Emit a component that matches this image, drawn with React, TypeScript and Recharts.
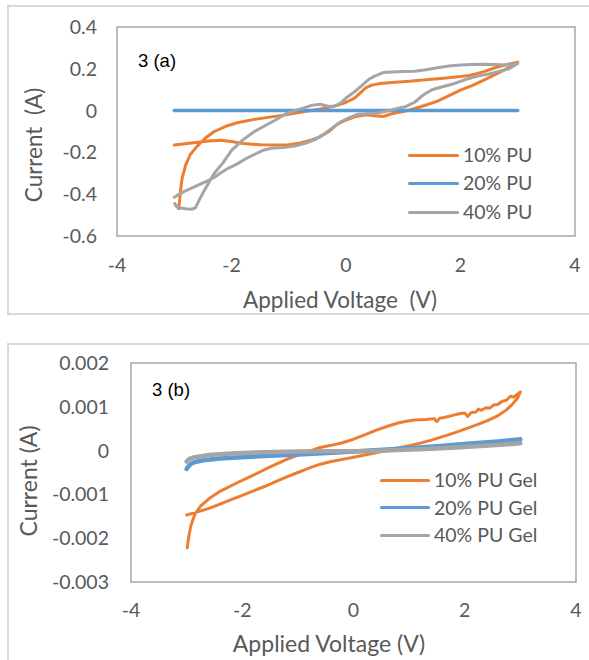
import React from 'react';
import { LineChart, Line, XAxis, YAxis, ReferenceArea, Legend, Label } from 'recharts';

type P = [number, number];

// ---------- shared ----------
const xTicks = [-4, -2, 0, 2, 4];
const colors = ['#ED7D31', '#5B9BD5', '#A5A5A5'];

// ---------- panel 3 (a) : current in A ----------
const yTicksA = [-0.6, -0.4, -0.2, 0, 0.2, 0.4];
const namesA = ['10% PU', '20% PU', '40% PU'];

const pu10: P[] = [
  [-3.0, -0.165], [-2.7, -0.155], [-2.4, -0.145], [-2.2, -0.142], [-2.0, -0.148], [-1.8, -0.158],
  [-1.5, -0.163], [-1.2, -0.165], [-1.0, -0.163], [-0.8, -0.155], [-0.6, -0.14], [-0.45, -0.125],
  [-0.3, -0.1], [-0.15, -0.065], [0.0, -0.045], [0.15, -0.03], [0.35, -0.02], [0.5, -0.025],
  [0.65, -0.028], [0.8, -0.015], [1.0, -0.005], [1.2, 0.01], [1.4, 0.027], [1.6, 0.045],
  [1.8, 0.072], [2.0, 0.098], [2.2, 0.12], [2.4, 0.145], [2.6, 0.172], [2.8, 0.2], [3.0, 0.232],
  [2.8, 0.22], [2.6, 0.205], [2.45, 0.19], [2.3, 0.178], [2.15, 0.168], [2.0, 0.163], [1.7, 0.155],
  [1.4, 0.148], [1.1, 0.14], [0.8, 0.135], [0.6, 0.13], [0.45, 0.122], [0.35, 0.11], [0.25, 0.085],
  [0.15, 0.06], [0.0, 0.04], [-0.15, 0.025], [-0.35, 0.012], [-0.6, 0.0], [-0.8, -0.008],
  [-1.0, -0.018], [-1.3, -0.03], [-1.6, -0.042], [-1.9, -0.058], [-2.1, -0.075], [-2.3, -0.1],
  [-2.45, -0.13], [-2.6, -0.17], [-2.72, -0.21], [-2.8, -0.26], [-2.86, -0.32], [-2.89, -0.38],
  [-2.91, -0.44], [-2.92, -0.47], [-2.97, -0.455], [-2.99, -0.445],
];

const pu20: P[] = [
  [-3.0, 0.0], [-1.5, 0.0], [0.0, 0.0], [1.5, 0.0], [3.0, 0.0],
];

const pu40: P[] = [
  [-3.0, -0.415], [-2.85, -0.39], [-2.65, -0.365], [-2.45, -0.34], [-2.3, -0.32], [-2.2, -0.3],
  [-2.05, -0.275], [-1.9, -0.255], [-1.75, -0.23], [-1.6, -0.21], [-1.45, -0.19], [-1.3, -0.18],
  [-1.1, -0.177], [-0.9, -0.17], [-0.7, -0.155], [-0.55, -0.14], [-0.4, -0.115], [-0.25, -0.085],
  [-0.1, -0.055], [0.05, -0.035], [0.2, -0.018], [0.35, -0.015], [0.55, -0.012], [0.7, -0.003],
  [0.9, 0.01], [1.05, 0.02], [1.2, 0.04], [1.35, 0.075], [1.5, 0.1], [1.7, 0.115], [1.9, 0.13],
  [2.1, 0.15], [2.3, 0.165], [2.5, 0.175], [2.7, 0.19], [2.85, 0.2], [3.0, 0.225],
  [2.8, 0.218], [2.6, 0.22], [2.4, 0.222], [2.2, 0.22], [2.0, 0.218], [1.8, 0.213], [1.6, 0.205],
  [1.4, 0.195], [1.2, 0.188], [1.0, 0.187], [0.8, 0.185], [0.65, 0.182], [0.5, 0.165], [0.4, 0.15],
  [0.3, 0.125], [0.15, 0.09], [0.0, 0.06], [-0.1, 0.035], [-0.2, 0.022], [-0.3, 0.02], [-0.45, 0.03],
  [-0.6, 0.025], [-0.75, 0.012], [-0.9, 0.0], [-1.05, -0.015], [-1.2, -0.04], [-1.4, -0.07],
  [-1.6, -0.1], [-1.8, -0.14], [-2.0, -0.19], [-2.15, -0.25], [-2.3, -0.3], [-2.45, -0.37],
  [-2.55, -0.42], [-2.63, -0.465], [-2.7, -0.472], [-2.8, -0.47], [-2.92, -0.465], [-2.98, -0.45],
];

// ---------- panel 3 (b) : current in mA (tick labels shown in A) ----------
const yTicksB = [-3, -2, -1, 0, 1, 2];
const yTickLabelsB = ['-0.003', '-0.002', '-0.001', '0', '0.001', '0.002'];
const namesB = ['10% PU Gel', '20% PU Gel', '40% PU Gel'];

const gel10: P[] = [
  [-3.0, -1.47], [-2.8, -1.4], [-2.6, -1.32], [-2.4, -1.22], [-2.2, -1.12], [-2.0, -1.02],
  [-1.8, -0.92], [-1.6, -0.82], [-1.4, -0.71], [-1.2, -0.6], [-1.0, -0.5], [-0.8, -0.4],
  [-0.6, -0.31], [-0.4, -0.25], [-0.2, -0.2], [0.0, -0.15], [0.2, -0.1], [0.4, -0.05], [0.6, 0.0],
  [0.8, 0.06], [1.0, 0.11], [1.2, 0.17], [1.4, 0.24], [1.6, 0.32], [1.8, 0.4], [2.0, 0.49],
  [2.2, 0.58], [2.4, 0.68], [2.6, 0.8], [2.75, 0.93], [2.85, 1.05], [2.95, 1.2], [3.0, 1.34],
  [2.93, 1.27], [2.88, 1.22], [2.82, 1.24], [2.75, 1.15], [2.68, 1.13], [2.6, 1.06], [2.52, 1.04],
  [2.45, 0.97], [2.38, 0.98], [2.3, 0.92], [2.25, 0.95], [2.2, 0.88], [2.12, 0.87], [2.05, 0.78],
  [2.0, 0.86], [1.9, 0.84], [1.8, 0.81], [1.65, 0.76], [1.55, 0.74], [1.5, 0.66], [1.45, 0.73],
  [1.3, 0.71], [1.1, 0.7], [0.95, 0.67], [0.8, 0.63], [0.6, 0.55], [0.4, 0.46], [0.2, 0.36],
  [0.0, 0.26], [-0.2, 0.18], [-0.4, 0.12], [-0.6, 0.07], [-0.8, -0.02], [-1.0, -0.1],
  [-1.2, -0.2], [-1.5, -0.37], [-1.8, -0.56], [-2.1, -0.74], [-2.4, -0.93], [-2.6, -1.1],
  [-2.75, -1.27], [-2.85, -1.45], [-2.92, -1.7], [-2.96, -1.95], [-2.99, -2.22],
];

const gel20: P[] = [
  [-3.0, -0.42], [-2.97, -0.36], [-2.92, -0.3], [-2.85, -0.26], [-2.7, -0.22], [-2.4, -0.18],
  [-2.1, -0.155], [-1.5, -0.12], [-0.9, -0.085], [-0.3, -0.045], [0.3, 0.0], [0.9, 0.05],
  [1.5, 0.1], [2.1, 0.16], [2.6, 0.21], [3.0, 0.26],
];

const gel40: P[] = [
  [-3.0, -0.25], [-2.95, -0.19], [-2.85, -0.15], [-2.6, -0.1], [-2.2, -0.065], [-1.6, -0.035],
  [-1.0, -0.02], [-0.4, -0.015], [0.2, -0.015], [0.8, 0.015], [1.4, 0.045], [2.0, 0.08],
  [2.5, 0.12], [3.0, 0.17],
];

const toRows = (pts: P[]) => pts.map(([v, i]) => ({ v, i }));

const FONT = 'Lato, "Open Sans", sans-serif';
const GREY_TEXT = '#595959';
const tickStyle = { fill: GREY_TEXT, fontSize: 19.5, fontFamily: FONT };

function LegendBox({ names, lineW, rowH }: { names: string[]; lineW: number; rowH: number }) {
  return (
    <div style={{ fontFamily: FONT, fontSize: 19.5, color: GREY_TEXT }}>
      {names.map((n, k) => (
        <div key={n} style={{ display: 'flex', alignItems: 'center', height: rowH }}>
          <div style={{ width: lineW, height: 3, background: colors[k], borderRadius: 1.5 }} />
          <span style={{ marginLeft: 4, lineHeight: `${rowH}px`, whiteSpace: 'nowrap' }}>{n}</span>
        </div>
      ))}
    </div>
  );
}

const titleStyle = (size: number) => ({
  fill: GREY_TEXT,
  fontSize: size,
  fontFamily: FONT,
  whiteSpace: 'pre' as const,
});

export default function App() {
  const d10 = toRows(pu10);
  const d20 = toRows(pu20);
  const d40 = toRows(pu40);
  const g10 = toRows(gel10);
  const g20 = toRows(gel20);
  const g40 = toRows(gel40);

  return (
    <div style={{ position: 'absolute', left: 0, top: 0, width: 589, height: 660, background: '#fff', overflow: 'hidden' }}>
      {/* outer chart frames */}
      <div style={{ position: 'absolute', left: 7, top: 5, width: 600, height: 310, border: '2px solid #D9D9D9', boxSizing: 'border-box' }} />
      <div style={{ position: 'absolute', left: 7, top: 343, width: 600, height: 400, border: '2px solid #D9D9D9', boxSizing: 'border-box' }} />

      {/* chart (a) */}
      <div style={{ position: 'absolute', left: 0, top: 0 }}>
        <LineChart width={589} height={320} margin={{ top: 27, right: 14, bottom: 0, left: 0 }}>
          <XAxis
            type="number" dataKey="v" domain={[-4, 4]} ticks={xTicks} interval={0}
            height={84} axisLine={false} tickLine={false} tickSize={0} tickMargin={22} tick={tickStyle}
            allowDataOverflow
            label={<Label content={() => (
              <text x={340} y={308} textAnchor="middle" xmlSpace="preserve" style={titleStyle(22.5)}>Applied Voltage  (V)</text>
            )} />}
          />
          <YAxis
            type="number" dataKey="i" domain={[-0.6, 0.4]} ticks={yTicksA} interval={0}
            width={117} axisLine={false} tickLine={false} tickSize={0} tickMargin={20} tick={tickStyle}
            allowDataOverflow
            label={<Label content={() => (
              <text x={33} y={145} transform="rotate(-90, 33, 145)" textAnchor="middle" dominantBaseline="central" xmlSpace="preserve" style={titleStyle(22.5)}>Current  (A)</text>
            )} />}
          />
          <ReferenceArea x1={-4} x2={4} y1={-0.6} y2={0.4} fill="none" fillOpacity={0} stroke="#A6A6A6" strokeWidth={1.5} ifOverflow="visible" />
          <Line data={d10} dataKey="i" name={namesA[0]} type="linear" stroke={colors[0]} strokeWidth={3} dot={false} activeDot={false} isAnimationActive={false} strokeLinejoin="round" strokeLinecap="round" />
          <Line data={d20} dataKey="i" name={namesA[1]} type="linear" stroke={colors[1]} strokeWidth={3.5} dot={false} activeDot={false} isAnimationActive={false} strokeLinejoin="round" strokeLinecap="round" />
          <Line data={d40} dataKey="i" name={namesA[2]} type="linear" stroke={colors[2]} strokeWidth={3} dot={false} activeDot={false} isAnimationActive={false} strokeLinejoin="round" strokeLinecap="round" />
          <Legend
            layout="vertical" align="center" verticalAlign="middle"
            wrapperStyle={{ left: 408, top: 140.75, width: 170, margin: 0, padding: 0 }}
            content={() => <LegendBox names={namesA} lineW={51} rowH={28.5} />}
          />
        </LineChart>
      </div>
      <div style={{ position: 'absolute', left: 138, top: 52, fontFamily: '"Liberation Sans", Arial, sans-serif', fontSize: 18.5, lineHeight: '18px', color: '#000', whiteSpace: 'nowrap' }}>3 (a)</div>

      {/* chart (b) */}
      <div style={{ position: 'absolute', left: 0, top: 330 }}>
        <LineChart width={589} height={330} margin={{ top: 33, right: 13, bottom: 0, left: 0 }}>
          <XAxis
            type="number" dataKey="v" domain={[-4, 4]} ticks={xTicks} interval={0}
            height={78} axisLine={false} tickLine={false} tickSize={0} tickMargin={21} tick={tickStyle}
            allowDataOverflow
            label={<Label content={() => (
              <text x={329} y={322} textAnchor="middle" xmlSpace="preserve" style={titleStyle(23)}>Applied Voltage (V)</text>
            )} />}
          />
          <YAxis
            type="number" dataKey="i" domain={[-3, 2]} ticks={yTicksB} interval={0}
            width={131} axisLine={false} tickLine={false} tickSize={0} tickMargin={22} tick={tickStyle}
            tickFormatter={(v: number) => yTickLabelsB[yTicksB.indexOf(v)] ?? String(v)}
            allowDataOverflow
            label={<Label content={() => (
              <text x={28} y={151} transform="rotate(-90, 28, 151)" textAnchor="middle" dominantBaseline="central" xmlSpace="preserve" style={titleStyle(23)}>Current (A)</text>
            )} />}
          />
          <ReferenceArea x1={-4} x2={4} y1={-3} y2={2} fill="none" fillOpacity={0} stroke="#A6A6A6" strokeWidth={1.5} ifOverflow="visible" />
          <Line data={g10} dataKey="i" name={namesB[0]} type="linear" stroke={colors[0]} strokeWidth={3} dot={false} activeDot={false} isAnimationActive={false} strokeLinejoin="round" strokeLinecap="round" />
          <Line data={g20} dataKey="i" name={namesB[1]} type="linear" stroke={colors[1]} strokeWidth={4.5} dot={false} activeDot={false} isAnimationActive={false} strokeLinejoin="round" strokeLinecap="round" />
          <Line data={g40} dataKey="i" name={namesB[2]} type="linear" stroke={colors[2]} strokeWidth={4.5} dot={false} activeDot={false} isAnimationActive={false} strokeLinejoin="round" strokeLinecap="round" />
          <Legend
            layout="vertical" align="center" verticalAlign="middle"
            wrapperStyle={{ left: 380, top: 136.25, width: 200, margin: 0, padding: 0 }}
            content={() => <LegendBox names={namesB} lineW={50} rowH={27.5} />}
          />
        </LineChart>
      </div>
      <div style={{ position: 'absolute', left: 152, top: 381, fontFamily: '"Liberation Sans", Arial, sans-serif', fontSize: 18.5, lineHeight: '18px', color: '#000', whiteSpace: 'nowrap' }}>3 (b)</div>
    </div>
  );
}
